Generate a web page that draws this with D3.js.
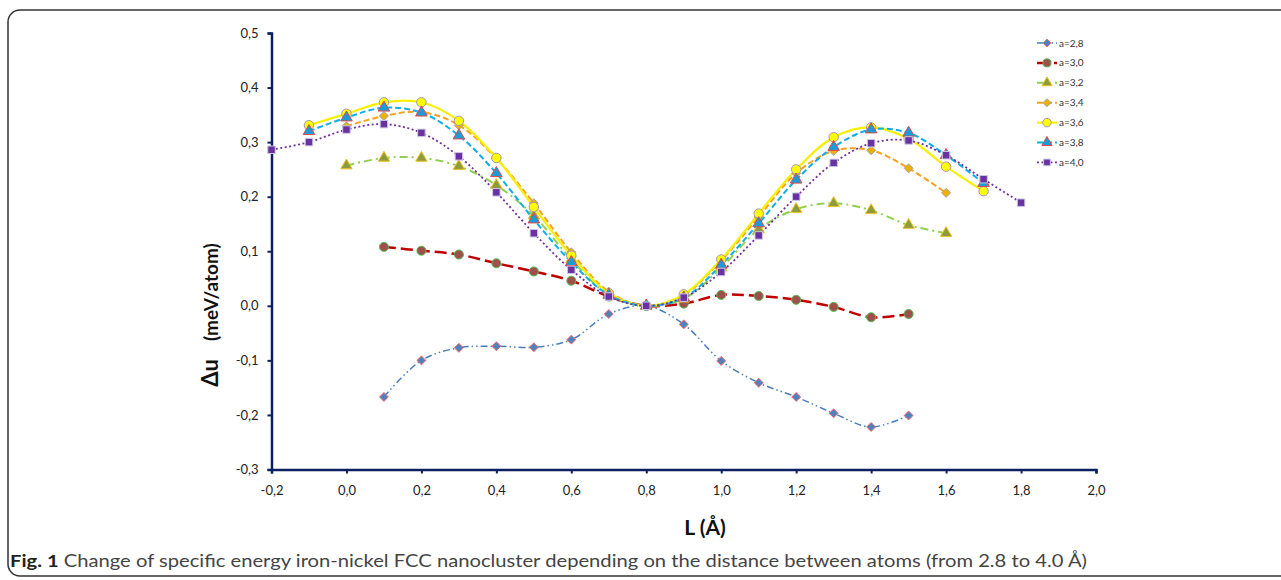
<!DOCTYPE html>
<html>
<head>
<meta charset="utf-8">
<script src="https://cdn.jsdelivr.net/npm/d3@7"></script>
<style>
  html, body { margin: 0; padding: 0; background: #fff; }
  svg { display: block; }
  text { font-family: Lato, "Open Sans", sans-serif; }
</style>
</head>
<body>
<svg id="chart" width="1281" height="580"></svg>
<script>
// ---- data ----
const seriesNames = ["a=2,8", "a=3,0", "a=3,2", "a=3,4", "a=3,6", "a=3,8", "a=4,0"];

const lA28 = [0.1, 0.2, 0.3, 0.4, 0.5, 0.6, 0.7, 0.8, 0.9, 1.0, 1.1, 1.2, 1.3, 1.4, 1.5];
const uA28 = [-0.167, -0.100, -0.077, -0.074, -0.076, -0.062, -0.015, 0, -0.034, -0.101, -0.141, -0.167, -0.197, -0.222, -0.201];

const lA30 = [0.1, 0.2, 0.3, 0.4, 0.5, 0.6, 0.7, 0.8, 0.9, 1.0, 1.1, 1.2, 1.3, 1.4, 1.5];
const uA30 = [0.108, 0.101, 0.094, 0.078, 0.063, 0.046, 0.017, 0, 0.004, 0.020, 0.018, 0.011, -0.002, -0.021, -0.015];

const lA32 = [0.0, 0.1, 0.2, 0.3, 0.4, 0.5, 0.6, 0.7, 0.8, 0.9, 1.0, 1.1, 1.2, 1.3, 1.4, 1.5, 1.6];
const uA32 = [0.257, 0.271, 0.271, 0.256, 0.221, 0.165, 0.085, 0.020, 0, 0.013, 0.070, 0.140, 0.177, 0.188, 0.175, 0.148, 0.133];

const lA34 = [0.0, 0.1, 0.2, 0.3, 0.4, 0.5, 0.6, 0.7, 0.8, 0.9, 1.0, 1.1, 1.2, 1.3, 1.4, 1.5, 1.6];
const uA34 = [0.329, 0.348, 0.355, 0.331, 0.270, 0.188, 0.098, 0.026, 0, 0.020, 0.083, 0.163, 0.243, 0.284, 0.285, 0.252, 0.207];

const lA36 = [-0.1, 0.0, 0.1, 0.2, 0.3, 0.4, 0.5, 0.6, 0.7, 0.8, 0.9, 1.0, 1.1, 1.2, 1.3, 1.4, 1.5, 1.6, 1.7];
const uA36 = [0.331, 0.352, 0.373, 0.373, 0.339, 0.271, 0.181, 0.092, 0.023, 0, 0.021, 0.085, 0.169, 0.250, 0.309, 0.327, 0.306, 0.255, 0.210];

const lA38 = [-0.1, 0.0, 0.1, 0.2, 0.3, 0.4, 0.5, 0.6, 0.7, 0.8, 0.9, 1.0, 1.1, 1.2, 1.3, 1.4, 1.5, 1.6, 1.7];
const uA38 = [0.320, 0.345, 0.363, 0.354, 0.312, 0.243, 0.158, 0.080, 0.020, 0, 0.015, 0.075, 0.151, 0.231, 0.291, 0.323, 0.317, 0.276, 0.225];

const lA40 = [-0.2, -0.1, 0.0, 0.1, 0.2, 0.3, 0.4, 0.5, 0.6, 0.7, 0.8, 0.9, 1.0, 1.1, 1.2, 1.3, 1.4, 1.5, 1.6, 1.7, 1.8];
const uA40 = [0.286, 0.300, 0.323, 0.333, 0.317, 0.274, 0.208, 0.133, 0.066, 0.017, 0, 0.015, 0.062, 0.129, 0.200, 0.262, 0.298, 0.303, 0.276, 0.232, 0.189];

const xTicks = [-0.2, 0.0, 0.2, 0.4, 0.6, 0.8, 1.0, 1.2, 1.4, 1.6, 1.8, 2.0];
const yTicks = [-0.3, -0.2, -0.1, 0.0, 0.1, 0.2, 0.3, 0.4, 0.5];

// square diamond (Excel style), not d3's tall one
const squareDiamond = {
  draw(ctx, size) {
    const r = Math.sqrt(size / 2);
    ctx.moveTo(0, -r); ctx.lineTo(r, 0); ctx.lineTo(0, r); ctx.lineTo(-r, 0); ctx.closePath();
  }
};

// ---- styles ----
const styles = [
  { line: "#4a7ebb", width: 1.5, dash: "7,3,1.5,3,1.5,3", shape: squareDiamond, size: 40, fill: "#4f81bd", stroke: "#ff6b6b" },
  { line: "#c00000", width: 2.5, dash: "12,5", shape: d3.symbolCircle, size: 64, fill: "#a0504c", stroke: "#4fc04f" },
  { line: "#92d050", width: 2, dash: "8,4,2,4", shape: d3.symbolTriangle, size: 56, fill: "#8c9c3c", stroke: "#f0c020" },
  { line: "#f7a21e", width: 2, dash: "6,3", shape: squareDiamond, size: 40, fill: "#f0b000", stroke: "#a0a0a0" },
  { line: "#f7f000", width: 2.2, dash: null, shape: d3.symbolCircle, size: 70, fill: "#ffff00", stroke: "#a892b8" },
  { line: "#10aee8", width: 2, dash: "6,3", shape: d3.symbolTriangle, size: 58, fill: "#1d9ad8", stroke: "#e04848" },
  { line: "#7030a0", width: 1.8, dash: "2,2.5", shape: d3.symbolSquare, size: 56, fill: "#6a32a0", stroke: "#c8c8e8" }
];

const series = [
  [lA28, uA28], [lA30, uA30], [lA32, uA32], [lA34, uA34], [lA36, uA36], [lA38, uA38], [lA40, uA40]
].map(([ls, us], i) => ({ name: seriesNames[i], style: styles[i], pts: ls.map((l, j) => ({ l, u: us[j] })) }));

const svg = d3.select("#chart");

// figure frame
svg.append("rect")
  .attr("x", 8).attr("y", 10).attr("width", 1310).attr("height", 566)
  .attr("rx", 12)
  .attr("fill", "none").attr("stroke", "#333").attr("stroke-width", 1.5);

const x = d3.scaleLinear().domain([-0.2, 2.0]).range([271.5, 1096]);
const y = d3.scaleLinear().domain([-0.3, 0.5]).range([469.5, 33]);

const loc = d3.formatLocale({ decimal: ",", thousands: " ", grouping: [3], currency: ["", ""], minus: "-" });
const fmt = loc.format(".1f");

const axisColor = "#0c2060";

// y axis
const yAxis = svg.append("g")
  .attr("transform", `translate(${x(-0.2)},0)`)
  .call(d3.axisLeft(y).tickValues(yTicks).tickFormat(fmt).tickSize(4).tickSizeOuter(4).tickPadding(9));
// x axis
const xAxis = svg.append("g")
  .attr("transform", `translate(0,${y(-0.3)})`)
  .call(d3.axisBottom(x).tickValues(xTicks).tickFormat(fmt).tickSize(4).tickSizeOuter(4).tickPadding(12));

[yAxis, xAxis].forEach(g => {
  g.select(".domain").attr("stroke", axisColor).attr("stroke-width", 2.5);
  g.selectAll(".tick line").attr("stroke", axisColor).attr("stroke-width", 2);
  g.selectAll(".tick text").attr("fill", "#222").style("font-size", "13px").style("font-family", "Lato, sans-serif");
});

// lines
const line = d3.line()
  .x(d => x(d.l))
  .y(d => y(d.u))
  .curve(d3.curveCatmullRom.alpha(0.5));

const plot = svg.append("g");

series.forEach(s => {
  plot.append("path")
    .datum(s.pts)
    .attr("d", line)
    .attr("fill", "none")
    .attr("stroke", s.style.line)
    .attr("stroke-width", s.style.width)
    .attr("stroke-dasharray", s.style.dash);
});

series.forEach(s => {
  plot.append("g").selectAll("path")
    .data(s.pts)
    .join("path")
    .attr("transform", d => `translate(${x(d.l)},${y(d.u)})`)
    .attr("d", d3.symbol().type(s.style.shape).size(s.style.size))
    .attr("fill", s.style.fill)
    .attr("stroke", s.style.stroke)
    .attr("stroke-width", 1);
});

// legend
const legend = svg.append("g").attr("transform", "translate(1037,43)");
series.forEach((s, i) => {
  const g = legend.append("g").attr("transform", `translate(0,${i * 19.9})`);
  g.append("line")
    .attr("x1", 0).attr("x2", 20).attr("y1", 0).attr("y2", 0)
    .attr("stroke", s.style.line)
    .attr("stroke-width", s.style.width)
    .attr("stroke-dasharray", s.style.dash);
  g.append("path")
    .attr("transform", "translate(10,0)")
    .attr("d", d3.symbol().type(s.style.shape).size(s.style.size * 0.8))
    .attr("fill", s.style.fill)
    .attr("stroke", s.style.stroke)
    .attr("stroke-width", 1);
  g.append("text")
    .attr("x", 22).attr("y", 0).attr("dy", "0.35em")
    .style("font-size", "10px").attr("fill", "#333")
    .text(s.name);
});

// axis titles
svg.append("text")
  .attr("transform", "translate(218,315) rotate(-90)")
  .attr("text-anchor", "middle")
  .style("font-weight", "bold")
  .attr("fill", "#111")
  .call(t => {
    t.append("tspan").style("font-size", "22px").text("Δu");
    t.append("tspan").style("font-size", "19px").attr("dx", 18).text("(meV/atom)");
  });

svg.append("text")
  .attr("x", 705).attr("y", 535)
  .attr("text-anchor", "middle")
  .style("font-weight", "bold").style("font-size", "21px")
  .attr("fill", "#111")
  .text("L (Å)");

// caption
svg.append("text")
  .attr("x", 10).attr("y", 567)
  .attr("textLength", 1077).attr("lengthAdjust", "spacingAndGlyphs")
  .style("font-size", "17px").attr("fill", "#444")
  .call(t => {
    t.append("tspan").style("font-weight", "bold").attr("fill", "#222").text("Fig. 1");
    t.append("tspan").text(" Change of specific energy iron-nickel FCC nanocluster depending on the distance between atoms (from 2.8 to 4.0 Å)");
  });
</script>
</body>
</html>
